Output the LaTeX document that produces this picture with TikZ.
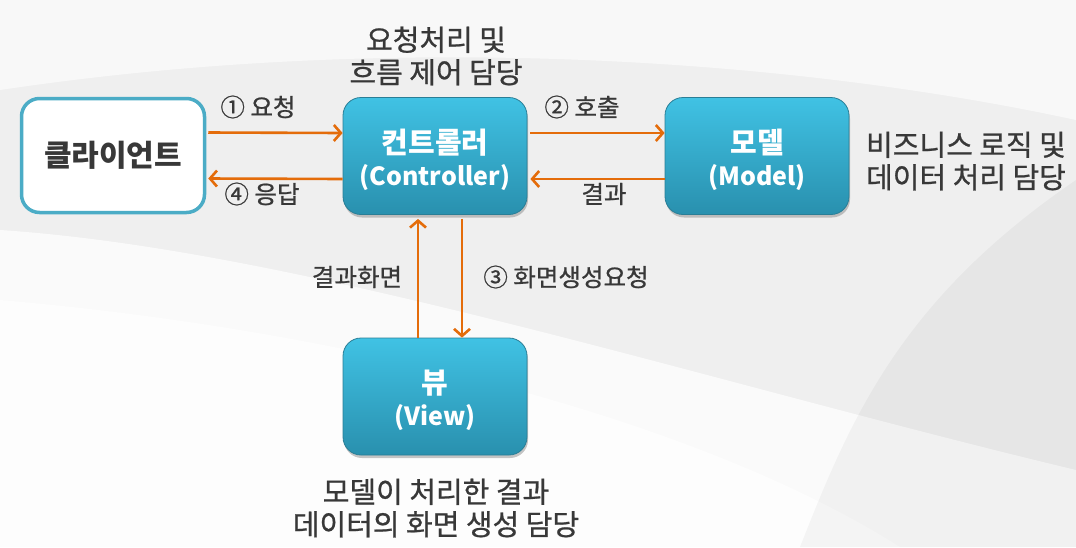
\documentclass[tikz,border=0pt]{standalone}
\usepackage{fontspec}
\setmainfont{Noto Sans CJK KR}
\newfontfamily\medfont[FakeBold=0.8]{Noto Sans CJK KR}
\usetikzlibrary{arrows.meta,shadows}
\definecolor{arrowc}{HTML}{E46C0A}
\definecolor{boxtop}{HTML}{40C2E4}
\definecolor{boxbot}{HTML}{2990AE}
\definecolor{boxline}{HTML}{2A7E96}
\definecolor{txt}{HTML}{383838}
\definecolor{clientline}{HTML}{4BACC6}
\definecolor{bgc}{HTML}{EFEFEF}
\newcommand{\kor}{\fontsize{29}{32}\selectfont\rule{0pt}{32pt}}
\newcommand{\lat}{\fontsize{25}{32}\selectfont}
\tikzset{
  box/.style={rounded corners=18pt, minimum width=184pt, minimum height=117pt,
    top color=boxtop, bottom color=boxbot, draw=boxline, line width=0.8pt,
    text=white, font=\fontsize{25}{32}\selectfont\bfseries, align=center,
    drop shadow={shadow xshift=1pt, shadow yshift=-3pt, opacity=0.45}},
  clientbox/.style={rounded corners=18pt, minimum width=183pt, minimum height=114pt,
    fill=white, draw=clientline, line width=3.5pt, text=txt,
    font=\fontsize{30}{34}\selectfont\bfseries},
  arr/.style={draw=arrowc, line width=2.6pt, -{Straight Barb[length=7pt,width=16pt]}},
  lbl/.style={text=txt, font=\medfont\fontsize{24.5}{28}\selectfont},
  desc/.style={text=txt, font=\medfont\fontsize{29}{32.5}\selectfont, align=center}
}
\begin{document}
\begin{tikzpicture}[x=1pt,y=-1pt]
\useasboundingbox (0,0) rectangle (1076,547);
% background
\fill[bgc] (0,0) rectangle (1076,547);
\fill[white,opacity=0.6] (0,0) -- (1076,0) -- (1076,120) .. controls (800,60) and (400,30) .. (0,90) -- cycle;
\fill[white,opacity=0.7] (0,230) .. controls (300,250) and (700,380) .. (1076,470) -- (1076,547) -- (0,547) -- cycle;
\fill[white,opacity=0.6] (0,300) .. controls (350,330) and (700,420) .. (900,547) -- (0,547) -- cycle;
\fill[black,opacity=0.035] (1076,180) .. controls (900,300) and (850,420) .. (800,547) -- (1076,547) -- cycle;
% nodes
\node[clientbox] (client) at (113,155.5) {클라이언트};
\node[box] (ctrl) at (435,156) {{\kor 컨트롤러}\\{\lat (Controller)}};
\node[box] (model) at (757,156) {{\kor 모델}\\{\lat (Model)}};
\node[box] (view) at (435,396.5) {{\kor 뷰}\\{\lat (View)}};
% arrows
\draw[arr] ([xshift=2pt,yshift=23pt]client.east) -- ([yshift=23pt]ctrl.west);
\draw[arr] ([yshift=-23pt]ctrl.west) -- ([xshift=2pt,yshift=-23pt]client.east);
\draw[arr] ([xshift=3pt,yshift=23pt]ctrl.east) -- ([yshift=23pt]model.west);
\draw[arr] ([yshift=-23pt]model.west) -- ([xshift=3pt,yshift=-23pt]ctrl.east);
\draw[arr] ([xshift=-17pt]view.north) -- ([xshift=-17pt,yshift=-4pt]ctrl.south);
\draw[arr] ([xshift=27pt,yshift=-4pt]ctrl.south) -- ([xshift=27pt]view.north);
% labels
\node[lbl] (l1) at (258,107) {① 요청};
\node[lbl] (l4) at (262,194) {④ 응답};
\node[lbl] (l2) at (582,107) {② 호출};
\node[lbl] (l5) at (604,194) {결과};
\node[lbl] (l6) at (357,277) {결과화면};
\node[lbl] (l3) at (566,277) {③ 화면생성요청};
% descriptions
\node[desc] (d1) at (436,56) {요청처리 및\\흐름 제어 담당};
\node[desc] (d2) at (966,161) {비즈니스 로직 및\\데이터 처리 담당};
\node[desc] (d3) at (436,508) {모델이 처리한 결과\\데이터의 화면 생성 담당};
\end{tikzpicture}
\end{document}
